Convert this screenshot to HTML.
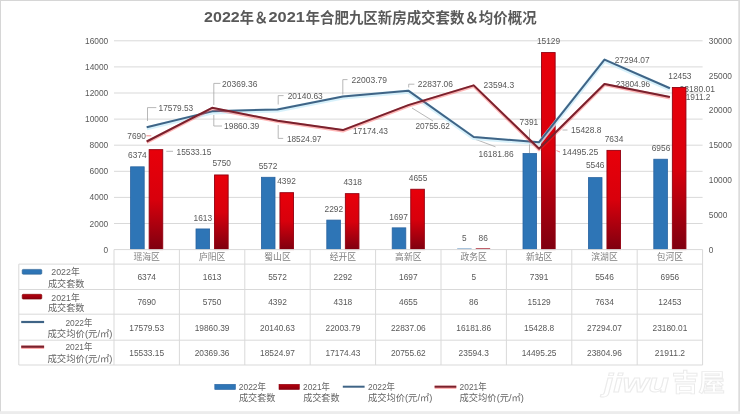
<!DOCTYPE html>
<html><head><meta charset="utf-8"><title>2022年＆2021年合肥九区新房成交套数＆均价概况</title>
<style>
html,body{margin:0;padding:0;background:#fff;}
body{width:740px;height:414px;overflow:hidden;}
svg{display:block;}
svg{font-family:'Liberation Sans', 'Noto Sans CJK SC', sans-serif;}
</style></head><body>
<svg width="740" height="414" viewBox="0 0 740 414">
<rect x="0" y="0" width="740" height="414" fill="#ffffff"/>
<rect x="0.5" y="0.5" width="739" height="413" fill="none" stroke="#d6d6d6" stroke-width="1"/>
<rect x="738.3" y="0" width="1.7" height="414" fill="#dcdcdc"/>
<rect x="0" y="411.2" width="740" height="2.8" fill="#ececec"/>
<g font-weight="bold" fill="#595959">
<text x="204.1" y="22.3" font-size="15" textLength="35.6" lengthAdjust="spacingAndGlyphs" font-family="'Liberation Sans', sans-serif">2022</text>
<text x="239.8" y="22.9" font-size="14.5" textLength="28.4" lengthAdjust="spacingAndGlyphs" font-family="'Liberation Sans', 'Noto Sans CJK SC', sans-serif">年＆</text>
<text x="268.5" y="22.3" font-size="15" textLength="36.4" lengthAdjust="spacingAndGlyphs" font-family="'Liberation Sans', sans-serif">2021</text>
<text x="305.6" y="22.9" font-size="14.5" textLength="231.0" lengthAdjust="spacingAndGlyphs" font-family="'Liberation Sans', 'Noto Sans CJK SC', sans-serif">年合肥九区新房成交套数＆均价概况</text>
</g>
<line x1="114.0" y1="223.50" x2="702.6" y2="223.50" stroke="#d9d9d9" stroke-width="1"/>
<line x1="114.0" y1="197.40" x2="702.6" y2="197.40" stroke="#d9d9d9" stroke-width="1"/>
<line x1="114.0" y1="171.30" x2="702.6" y2="171.30" stroke="#d9d9d9" stroke-width="1"/>
<line x1="114.0" y1="145.20" x2="702.6" y2="145.20" stroke="#d9d9d9" stroke-width="1"/>
<line x1="114.0" y1="119.10" x2="702.6" y2="119.10" stroke="#d9d9d9" stroke-width="1"/>
<line x1="114.0" y1="93.00" x2="702.6" y2="93.00" stroke="#d9d9d9" stroke-width="1"/>
<line x1="114.0" y1="66.90" x2="702.6" y2="66.90" stroke="#d9d9d9" stroke-width="1"/>
<line x1="114.0" y1="40.80" x2="702.6" y2="40.80" stroke="#d9d9d9" stroke-width="1"/>
<text x="103.6" y="252.6" textLength="4.6" lengthAdjust="spacingAndGlyphs" font-size="8.4" fill="#595959">0</text>
<text x="89.6" y="226.5" textLength="18.6" lengthAdjust="spacingAndGlyphs" font-size="8.4" fill="#595959">2000</text>
<text x="89.6" y="200.4" textLength="18.6" lengthAdjust="spacingAndGlyphs" font-size="8.4" fill="#595959">4000</text>
<text x="89.6" y="174.3" textLength="18.6" lengthAdjust="spacingAndGlyphs" font-size="8.4" fill="#595959">6000</text>
<text x="89.6" y="148.2" textLength="18.6" lengthAdjust="spacingAndGlyphs" font-size="8.4" fill="#595959">8000</text>
<text x="85.0" y="122.1" textLength="23.2" lengthAdjust="spacingAndGlyphs" font-size="8.4" fill="#595959">10000</text>
<text x="85.0" y="96.0" textLength="23.2" lengthAdjust="spacingAndGlyphs" font-size="8.4" fill="#595959">12000</text>
<text x="85.0" y="69.9" textLength="23.2" lengthAdjust="spacingAndGlyphs" font-size="8.4" fill="#595959">14000</text>
<text x="85.0" y="43.8" textLength="23.2" lengthAdjust="spacingAndGlyphs" font-size="8.4" fill="#595959">16000</text>
<text x="708.8" y="252.6" textLength="4.6" lengthAdjust="spacingAndGlyphs" font-size="8.4" fill="#595959">0</text>
<text x="708.8" y="217.8" textLength="18.6" lengthAdjust="spacingAndGlyphs" font-size="8.4" fill="#595959">5000</text>
<text x="708.8" y="183.0" textLength="23.2" lengthAdjust="spacingAndGlyphs" font-size="8.4" fill="#595959">10000</text>
<text x="708.8" y="148.2" textLength="23.2" lengthAdjust="spacingAndGlyphs" font-size="8.4" fill="#595959">15000</text>
<text x="708.8" y="113.4" textLength="23.2" lengthAdjust="spacingAndGlyphs" font-size="8.4" fill="#595959">20000</text>
<text x="708.8" y="78.6" textLength="23.2" lengthAdjust="spacingAndGlyphs" font-size="8.4" fill="#595959">25000</text>
<text x="708.8" y="43.8" textLength="23.2" lengthAdjust="spacingAndGlyphs" font-size="8.4" fill="#595959">30000</text>
<defs><linearGradient id="rg" x1="0" y1="0" x2="0" y2="1"><stop offset="0" stop-color="#e8000a"/><stop offset="0.5" stop-color="#d8000c"/><stop offset="1" stop-color="#7e0010"/></linearGradient><linearGradient id="rk" x1="0" y1="0" x2="0" y2="1"><stop offset="0" stop-color="#b8000c"/><stop offset="1" stop-color="#880010"/></linearGradient></defs>
<rect x="130.60" y="166.82" width="13.6" height="82.78" fill="#2e75b6" stroke="#2863a0" stroke-width="0.8"/>
<rect x="196.00" y="228.95" width="13.6" height="20.65" fill="#2e75b6" stroke="#2863a0" stroke-width="0.8"/>
<rect x="261.40" y="177.29" width="13.6" height="72.31" fill="#2e75b6" stroke="#2863a0" stroke-width="0.8"/>
<rect x="326.80" y="220.09" width="13.6" height="29.51" fill="#2e75b6" stroke="#2863a0" stroke-width="0.8"/>
<rect x="392.20" y="227.85" width="13.6" height="21.75" fill="#2e75b6" stroke="#2863a0" stroke-width="0.8"/>
<rect x="457.20" y="248.40" width="14.4" height="1.0" fill="#6f9cc6"/>
<rect x="523.00" y="153.55" width="13.6" height="96.05" fill="#2e75b6" stroke="#2863a0" stroke-width="0.8"/>
<rect x="588.40" y="177.62" width="13.6" height="71.98" fill="#2e75b6" stroke="#2863a0" stroke-width="0.8"/>
<rect x="653.80" y="159.22" width="13.6" height="90.38" fill="#2e75b6" stroke="#2863a0" stroke-width="0.8"/>
<path d="M147.5 121 V107.6 H156.3" fill="none" stroke="#a6a6a6" stroke-width="0.8"/>
<path d="M213.8 105 V83.4 H220.4" fill="none" stroke="#a6a6a6" stroke-width="0.8"/>
<path d="M213.8 115 V126 H222" fill="none" stroke="#a6a6a6" stroke-width="0.8"/>
<path d="M278.2 104.5 V95.6 H283.6" fill="none" stroke="#a6a6a6" stroke-width="0.8"/>
<path d="M278.2 125 V138.4 H283.2" fill="none" stroke="#a6a6a6" stroke-width="0.8"/>
<path d="M342.8 94.5 V79.6 H347.5" fill="none" stroke="#a6a6a6" stroke-width="0.8"/>
<path d="M408.7 87.5 V84.2 H414.4" fill="none" stroke="#a6a6a6" stroke-width="0.8"/>
<path d="M412 108 L433 121" fill="none" stroke="#a6a6a6" stroke-width="0.8"/>
<path d="M476 139.5 L495.5 146.8" fill="none" stroke="#a6a6a6" stroke-width="0.8"/>
<path d="M529.5 129.2 V153" fill="none" stroke="#a6a6a6" stroke-width="0.8"/>
<path d="M562.5 130 H567.5" fill="none" stroke="#a6a6a6" stroke-width="0.8"/>
<path d="M166.3 151.3 H173" fill="none" stroke="#a6a6a6" stroke-width="0.8"/>
<path d="M146.3 135.8 H151.3" fill="none" stroke="#f08080" stroke-width="0.9"/>
<path d="M556.5 150.6 L560 152" fill="none" stroke="#f08080" stroke-width="0.9"/>
<text x="158.5" y="111.3" textLength="34.7" lengthAdjust="spacingAndGlyphs" font-size="8.4" fill="#595959">17579.53</text>
<text x="176.5" y="155.0" textLength="34.8" lengthAdjust="spacingAndGlyphs" font-size="8.4" fill="#595959">15533.15</text>
<text x="224.0" y="129.0" textLength="35.3" lengthAdjust="spacingAndGlyphs" font-size="8.4" fill="#595959">19860.39</text>
<text x="222.0" y="87.0" textLength="35.4" lengthAdjust="spacingAndGlyphs" font-size="8.4" fill="#595959">20369.36</text>
<text x="287.7" y="98.5" textLength="35.1" lengthAdjust="spacingAndGlyphs" font-size="8.4" fill="#595959">20140.63</text>
<text x="286.9" y="141.7" textLength="34.5" lengthAdjust="spacingAndGlyphs" font-size="8.4" fill="#595959">18524.97</text>
<text x="351.5" y="83.3" textLength="35.5" lengthAdjust="spacingAndGlyphs" font-size="8.4" fill="#595959">22003.79</text>
<text x="352.9" y="133.6" textLength="35.1" lengthAdjust="spacingAndGlyphs" font-size="8.4" fill="#595959">17174.43</text>
<text x="417.8" y="87.0" textLength="35.2" lengthAdjust="spacingAndGlyphs" font-size="8.4" fill="#595959">22837.06</text>
<text x="415.4" y="129.0" textLength="34.5" lengthAdjust="spacingAndGlyphs" font-size="8.4" fill="#595959">20755.62</text>
<text x="478.5" y="157.2" textLength="35.1" lengthAdjust="spacingAndGlyphs" font-size="8.4" fill="#595959">16181.86</text>
<text x="483.6" y="88.4" textLength="30.5" lengthAdjust="spacingAndGlyphs" font-size="8.4" fill="#595959">23594.3</text>
<text x="571.0" y="132.9" textLength="30.5" lengthAdjust="spacingAndGlyphs" font-size="8.4" fill="#595959">15428.8</text>
<text x="562.3" y="155.2" textLength="36.0" lengthAdjust="spacingAndGlyphs" font-size="8.4" fill="#595959">14495.25</text>
<text x="614.7" y="63.4" textLength="34.9" lengthAdjust="spacingAndGlyphs" font-size="8.4" fill="#595959">27294.07</text>
<text x="615.7" y="86.8" textLength="34.5" lengthAdjust="spacingAndGlyphs" font-size="8.4" fill="#595959">23804.96</text>
<text x="679.5" y="91.9" textLength="35.6" lengthAdjust="spacingAndGlyphs" font-size="8.4" fill="#595959">23180.01</text>
<text x="681.0" y="100.4" textLength="29.5" lengthAdjust="spacingAndGlyphs" font-size="8.4" fill="#595959">21911.2</text>
<rect x="149.15" y="149.65" width="13.6" height="99.95" fill="url(#rg)" stroke="#920010" stroke-width="0.9"/>
<rect x="214.55" y="174.96" width="13.6" height="74.64" fill="url(#rg)" stroke="#920010" stroke-width="0.9"/>
<rect x="279.95" y="192.68" width="13.6" height="56.92" fill="url(#rg)" stroke="#920010" stroke-width="0.9"/>
<rect x="345.35" y="193.65" width="13.6" height="55.95" fill="url(#rg)" stroke="#920010" stroke-width="0.9"/>
<rect x="410.75" y="189.25" width="13.6" height="60.35" fill="url(#rg)" stroke="#920010" stroke-width="0.9"/>
<rect x="475.75" y="248.00" width="14.4" height="1.3" fill="#c0606a"/>
<rect x="541.55" y="52.57" width="13.6" height="197.03" fill="url(#rg)" stroke="#920010" stroke-width="0.9"/>
<rect x="606.95" y="150.38" width="13.6" height="99.22" fill="url(#rg)" stroke="#920010" stroke-width="0.9"/>
<rect x="672.35" y="87.49" width="13.6" height="162.11" fill="url(#rg)" stroke="#920010" stroke-width="0.9"/>
<text x="128.1" y="158.2" textLength="18.6" lengthAdjust="spacingAndGlyphs" font-size="8.4" fill="#595959">6374</text>
<text x="127.3" y="139.2" textLength="18.6" lengthAdjust="spacingAndGlyphs" font-size="8.4" fill="#595959">7690</text>
<text x="193.5" y="220.6" textLength="18.6" lengthAdjust="spacingAndGlyphs" font-size="8.4" fill="#595959">1613</text>
<text x="212.4" y="166.3" textLength="18.6" lengthAdjust="spacingAndGlyphs" font-size="8.4" fill="#595959">5750</text>
<text x="258.7" y="169.1" textLength="18.6" lengthAdjust="spacingAndGlyphs" font-size="8.4" fill="#595959">5572</text>
<text x="277.2" y="184.3" textLength="18.6" lengthAdjust="spacingAndGlyphs" font-size="8.4" fill="#595959">4392</text>
<text x="324.5" y="211.6" textLength="18.6" lengthAdjust="spacingAndGlyphs" font-size="8.4" fill="#595959">2292</text>
<text x="343.4" y="184.6" textLength="18.6" lengthAdjust="spacingAndGlyphs" font-size="8.4" fill="#595959">4318</text>
<text x="389.3" y="219.8" textLength="18.6" lengthAdjust="spacingAndGlyphs" font-size="8.4" fill="#595959">1697</text>
<text x="408.8" y="181.4" textLength="18.6" lengthAdjust="spacingAndGlyphs" font-size="8.4" fill="#595959">4655</text>
<text x="462.0" y="240.8" textLength="4.6" lengthAdjust="spacingAndGlyphs" font-size="8.4" fill="#595959">5</text>
<text x="478.6" y="240.8" textLength="9.3" lengthAdjust="spacingAndGlyphs" font-size="8.4" fill="#595959">86</text>
<text x="519.6" y="125.2" textLength="18.6" lengthAdjust="spacingAndGlyphs" font-size="8.4" fill="#595959">7391</text>
<text x="536.9" y="43.8" textLength="23.2" lengthAdjust="spacingAndGlyphs" font-size="8.4" fill="#595959">15129</text>
<text x="585.9" y="168.2" textLength="18.6" lengthAdjust="spacingAndGlyphs" font-size="8.4" fill="#595959">5546</text>
<text x="604.7" y="142.0" textLength="18.6" lengthAdjust="spacingAndGlyphs" font-size="8.4" fill="#595959">7634</text>
<text x="651.7" y="150.9" textLength="18.6" lengthAdjust="spacingAndGlyphs" font-size="8.4" fill="#595959">6956</text>
<text x="668.3" y="79.3" textLength="23.2" lengthAdjust="spacingAndGlyphs" font-size="8.4" fill="#595959">12453</text>
<polyline points="146.70,127.25 212.10,111.37 277.50,109.42 342.90,96.45 408.30,90.65 473.70,136.97 539.10,142.22 604.50,59.63 669.90,88.27" fill="none" stroke="#cdeefa" stroke-width="4.2" stroke-linejoin="round" opacity="0.8" transform="translate(0,1)"/>
<polyline points="146.70,127.25 212.10,111.37 277.50,109.42 342.90,96.45 408.30,90.65 473.70,136.97 539.10,142.22 604.50,59.63 669.90,88.27" fill="none" stroke="#3f6486" stroke-width="2.0" stroke-linejoin="round"/>
<polyline points="146.70,141.49 212.10,107.83 277.50,120.67 342.90,130.07 408.30,105.14 473.70,85.38 539.10,148.71 604.50,83.92 669.90,97.10" fill="none" stroke="#ff3030" stroke-width="3.3" stroke-linejoin="round" opacity="0.35" transform="translate(0,0.8)"/>
<polyline points="146.70,141.49 212.10,107.83 277.50,120.67 342.90,130.07 408.30,105.14 473.70,85.38 539.10,148.71 604.50,83.92 669.90,97.10" fill="none" stroke="#7a212d" stroke-width="2.0" stroke-linejoin="round"/>
<line x1="114.0" y1="249.6" x2="702.6" y2="249.6" stroke="#d9d9d9" stroke-width="1"/>
<line x1="18.8" y1="264.1" x2="702.6" y2="264.1" stroke="#d9d9d9" stroke-width="1"/>
<line x1="18.8" y1="289.5" x2="702.6" y2="289.5" stroke="#d9d9d9" stroke-width="1"/>
<line x1="18.8" y1="314.2" x2="702.6" y2="314.2" stroke="#d9d9d9" stroke-width="1"/>
<line x1="18.8" y1="340.2" x2="702.6" y2="340.2" stroke="#d9d9d9" stroke-width="1"/>
<line x1="18.8" y1="365.0" x2="702.6" y2="365.0" stroke="#d9d9d9" stroke-width="1"/>
<line x1="18.8" y1="264.1" x2="18.8" y2="365.0" stroke="#d9d9d9" stroke-width="1"/>
<line x1="114.0" y1="249.6" x2="114.0" y2="365.0" stroke="#d9d9d9" stroke-width="1"/>
<line x1="179.4" y1="249.6" x2="179.4" y2="365.0" stroke="#d9d9d9" stroke-width="1"/>
<line x1="244.8" y1="249.6" x2="244.8" y2="365.0" stroke="#d9d9d9" stroke-width="1"/>
<line x1="310.2" y1="249.6" x2="310.2" y2="365.0" stroke="#d9d9d9" stroke-width="1"/>
<line x1="375.6" y1="249.6" x2="375.6" y2="365.0" stroke="#d9d9d9" stroke-width="1"/>
<line x1="441.0" y1="249.6" x2="441.0" y2="365.0" stroke="#d9d9d9" stroke-width="1"/>
<line x1="506.4" y1="249.6" x2="506.4" y2="365.0" stroke="#d9d9d9" stroke-width="1"/>
<line x1="571.8" y1="249.6" x2="571.8" y2="365.0" stroke="#d9d9d9" stroke-width="1"/>
<line x1="637.2" y1="249.6" x2="637.2" y2="365.0" stroke="#d9d9d9" stroke-width="1"/>
<line x1="702.6" y1="249.6" x2="702.6" y2="365.0" stroke="#d9d9d9" stroke-width="1"/>
<text x="146.7" y="259.9" text-anchor="middle" font-size="8.8" fill="#7f7f7f" font-family="'Liberation Sans', 'Noto Sans CJK SC', sans-serif">瑶海区</text>
<text x="212.1" y="259.9" text-anchor="middle" font-size="8.8" fill="#7f7f7f" font-family="'Liberation Sans', 'Noto Sans CJK SC', sans-serif">庐阳区</text>
<text x="277.5" y="259.9" text-anchor="middle" font-size="8.8" fill="#7f7f7f" font-family="'Liberation Sans', 'Noto Sans CJK SC', sans-serif">蜀山区</text>
<text x="342.9" y="259.9" text-anchor="middle" font-size="8.8" fill="#7f7f7f" font-family="'Liberation Sans', 'Noto Sans CJK SC', sans-serif">经开区</text>
<text x="408.3" y="259.9" text-anchor="middle" font-size="8.8" fill="#7f7f7f" font-family="'Liberation Sans', 'Noto Sans CJK SC', sans-serif">高新区</text>
<text x="473.7" y="259.9" text-anchor="middle" font-size="8.8" fill="#7f7f7f" font-family="'Liberation Sans', 'Noto Sans CJK SC', sans-serif">政务区</text>
<text x="539.1" y="259.9" text-anchor="middle" font-size="8.8" fill="#7f7f7f" font-family="'Liberation Sans', 'Noto Sans CJK SC', sans-serif">新站区</text>
<text x="604.5" y="259.9" text-anchor="middle" font-size="8.8" fill="#7f7f7f" font-family="'Liberation Sans', 'Noto Sans CJK SC', sans-serif">滨湖区</text>
<text x="669.9" y="259.9" text-anchor="middle" font-size="8.8" fill="#7f7f7f" font-family="'Liberation Sans', 'Noto Sans CJK SC', sans-serif">包河区</text>
<text x="137.4" y="280.0" textLength="18.6" lengthAdjust="spacingAndGlyphs" font-size="8.4" fill="#595959">6374</text>
<text x="137.4" y="305.4" textLength="18.6" lengthAdjust="spacingAndGlyphs" font-size="8.4" fill="#595959">7690</text>
<text x="129.3" y="330.6" textLength="34.8" lengthAdjust="spacingAndGlyphs" font-size="8.4" fill="#595959">17579.53</text>
<text x="129.3" y="356.0" textLength="34.8" lengthAdjust="spacingAndGlyphs" font-size="8.4" fill="#595959">15533.15</text>
<text x="202.8" y="280.0" textLength="18.6" lengthAdjust="spacingAndGlyphs" font-size="8.4" fill="#595959">1613</text>
<text x="202.8" y="305.4" textLength="18.6" lengthAdjust="spacingAndGlyphs" font-size="8.4" fill="#595959">5750</text>
<text x="194.7" y="330.6" textLength="34.8" lengthAdjust="spacingAndGlyphs" font-size="8.4" fill="#595959">19860.39</text>
<text x="194.7" y="356.0" textLength="34.8" lengthAdjust="spacingAndGlyphs" font-size="8.4" fill="#595959">20369.36</text>
<text x="268.2" y="280.0" textLength="18.6" lengthAdjust="spacingAndGlyphs" font-size="8.4" fill="#595959">5572</text>
<text x="268.2" y="305.4" textLength="18.6" lengthAdjust="spacingAndGlyphs" font-size="8.4" fill="#595959">4392</text>
<text x="260.1" y="330.6" textLength="34.8" lengthAdjust="spacingAndGlyphs" font-size="8.4" fill="#595959">20140.63</text>
<text x="260.1" y="356.0" textLength="34.8" lengthAdjust="spacingAndGlyphs" font-size="8.4" fill="#595959">18524.97</text>
<text x="333.6" y="280.0" textLength="18.6" lengthAdjust="spacingAndGlyphs" font-size="8.4" fill="#595959">2292</text>
<text x="333.6" y="305.4" textLength="18.6" lengthAdjust="spacingAndGlyphs" font-size="8.4" fill="#595959">4318</text>
<text x="325.5" y="330.6" textLength="34.8" lengthAdjust="spacingAndGlyphs" font-size="8.4" fill="#595959">22003.79</text>
<text x="325.5" y="356.0" textLength="34.8" lengthAdjust="spacingAndGlyphs" font-size="8.4" fill="#595959">17174.43</text>
<text x="399.0" y="280.0" textLength="18.6" lengthAdjust="spacingAndGlyphs" font-size="8.4" fill="#595959">1697</text>
<text x="399.0" y="305.4" textLength="18.6" lengthAdjust="spacingAndGlyphs" font-size="8.4" fill="#595959">4655</text>
<text x="390.9" y="330.6" textLength="34.8" lengthAdjust="spacingAndGlyphs" font-size="8.4" fill="#595959">22837.06</text>
<text x="390.9" y="356.0" textLength="34.8" lengthAdjust="spacingAndGlyphs" font-size="8.4" fill="#595959">20755.62</text>
<text x="471.4" y="280.0" textLength="4.6" lengthAdjust="spacingAndGlyphs" font-size="8.4" fill="#595959">5</text>
<text x="469.1" y="305.4" textLength="9.3" lengthAdjust="spacingAndGlyphs" font-size="8.4" fill="#595959">86</text>
<text x="456.3" y="330.6" textLength="34.8" lengthAdjust="spacingAndGlyphs" font-size="8.4" fill="#595959">16181.86</text>
<text x="458.6" y="356.0" textLength="30.2" lengthAdjust="spacingAndGlyphs" font-size="8.4" fill="#595959">23594.3</text>
<text x="529.8" y="280.0" textLength="18.6" lengthAdjust="spacingAndGlyphs" font-size="8.4" fill="#595959">7391</text>
<text x="527.5" y="305.4" textLength="23.2" lengthAdjust="spacingAndGlyphs" font-size="8.4" fill="#595959">15129</text>
<text x="524.0" y="330.6" textLength="30.2" lengthAdjust="spacingAndGlyphs" font-size="8.4" fill="#595959">15428.8</text>
<text x="521.7" y="356.0" textLength="34.8" lengthAdjust="spacingAndGlyphs" font-size="8.4" fill="#595959">14495.25</text>
<text x="595.2" y="280.0" textLength="18.6" lengthAdjust="spacingAndGlyphs" font-size="8.4" fill="#595959">5546</text>
<text x="595.2" y="305.4" textLength="18.6" lengthAdjust="spacingAndGlyphs" font-size="8.4" fill="#595959">7634</text>
<text x="587.1" y="330.6" textLength="34.8" lengthAdjust="spacingAndGlyphs" font-size="8.4" fill="#595959">27294.07</text>
<text x="587.1" y="356.0" textLength="34.8" lengthAdjust="spacingAndGlyphs" font-size="8.4" fill="#595959">23804.96</text>
<text x="660.6" y="280.0" textLength="18.6" lengthAdjust="spacingAndGlyphs" font-size="8.4" fill="#595959">6956</text>
<text x="658.3" y="305.4" textLength="23.2" lengthAdjust="spacingAndGlyphs" font-size="8.4" fill="#595959">12453</text>
<text x="652.5" y="330.6" textLength="34.8" lengthAdjust="spacingAndGlyphs" font-size="8.4" fill="#595959">23180.01</text>
<text x="654.8" y="356.0" textLength="30.2" lengthAdjust="spacingAndGlyphs" font-size="8.4" fill="#595959">21911.2</text>
<rect x="22.2" y="269.4" width="19.6" height="4.8" rx="1" fill="#2e75b6" stroke="#2a5f8f" stroke-width="0.6"/>
<rect x="22.2" y="294.3" width="19.6" height="4.8" rx="1" fill="url(#rk)" stroke="#7a0000" stroke-width="0.6"/>
<line x1="21.2" y1="322" x2="44.1" y2="322" stroke="#3f6486" stroke-width="2.2"/>
<line x1="21.2" y1="347.3" x2="44.1" y2="347.3" stroke="#ff3030" stroke-width="3.4" opacity="0.4"/>
<line x1="21.2" y1="346.7" x2="44.1" y2="346.7" stroke="#7a212d" stroke-width="2.2"/>
<text x="51.3" y="275.3" textLength="28.4" lengthAdjust="spacingAndGlyphs" font-size="8.8" fill="#646464">2022年</text>
<text x="47.9" y="286.8" textLength="36.5" lengthAdjust="spacingAndGlyphs" font-size="8.8" fill="#646464">成交套数</text>
<text x="51.3" y="300.7" textLength="28.4" lengthAdjust="spacingAndGlyphs" font-size="8.8" fill="#646464">2021年</text>
<text x="47.9" y="311.2" textLength="36.5" lengthAdjust="spacingAndGlyphs" font-size="8.8" fill="#646464">成交套数</text>
<text x="65.4" y="325.9" textLength="26.9" lengthAdjust="spacingAndGlyphs" font-size="8.8" fill="#646464">2022年</text>
<text x="47.4" y="336.9" textLength="65.1" lengthAdjust="spacingAndGlyphs" font-size="8.8" fill="#646464">成交均价(元/㎡)</text>
<text x="65.4" y="350.1" textLength="26.9" lengthAdjust="spacingAndGlyphs" font-size="8.8" fill="#646464">2021年</text>
<text x="47.4" y="361.9" textLength="65.1" lengthAdjust="spacingAndGlyphs" font-size="8.8" fill="#646464">成交均价(元/㎡)</text>
<rect x="214.8" y="384.3" width="20.6" height="5.2" fill="#2e75b6" stroke="#2863a0" stroke-width="0.6"/>
<rect x="279.0" y="384.3" width="20.3" height="5.2" fill="url(#rk)" stroke="#8a0010" stroke-width="0.6"/>
<line x1="342.8" y1="386.7" x2="364.6" y2="386.7" stroke="#3f6486" stroke-width="2"/>
<line x1="434.6" y1="387.3" x2="456.3" y2="387.3" stroke="#ff3030" stroke-width="3.2" opacity="0.4"/>
<line x1="434.6" y1="386.7" x2="456.3" y2="386.7" stroke="#7a212d" stroke-width="2"/>
<text x="238.8" y="389.9" textLength="27.2" lengthAdjust="spacingAndGlyphs" font-size="8.8" fill="#646464">2022年</text>
<text x="239.0" y="401.2" textLength="36.5" lengthAdjust="spacingAndGlyphs" font-size="8.8" fill="#646464">成交套数</text>
<text x="303.0" y="389.9" textLength="27.0" lengthAdjust="spacingAndGlyphs" font-size="8.8" fill="#646464">2021年</text>
<text x="303.2" y="401.2" textLength="36.3" lengthAdjust="spacingAndGlyphs" font-size="8.8" fill="#646464">成交套数</text>
<text x="368.0" y="389.9" textLength="27.0" lengthAdjust="spacingAndGlyphs" font-size="8.8" fill="#646464">2022年</text>
<text x="368.0" y="401.2" textLength="64.3" lengthAdjust="spacingAndGlyphs" font-size="8.8" fill="#646464">成交均价(元/㎡)</text>
<text x="459.6" y="389.9" textLength="27.0" lengthAdjust="spacingAndGlyphs" font-size="8.8" fill="#646464">2021年</text>
<text x="459.6" y="401.2" textLength="64.3" lengthAdjust="spacingAndGlyphs" font-size="8.8" fill="#646464">成交均价(元/㎡)</text>
<text x="604" y="391.5" font-size="26" font-weight="bold" font-style="italic" fill="#ffffff" stroke="#ebebeb" stroke-width="0.9" textLength="65" lengthAdjust="spacingAndGlyphs" font-family="'Liberation Sans', sans-serif">jiwu</text>
<text x="672" y="391" font-size="24" font-weight="bold" fill="#ffffff" stroke="#ebebeb" stroke-width="0.9" font-family="'Liberation Sans', 'Noto Sans CJK SC', sans-serif" textLength="53" lengthAdjust="spacingAndGlyphs">吉屋</text>
</svg>
</body></html>
